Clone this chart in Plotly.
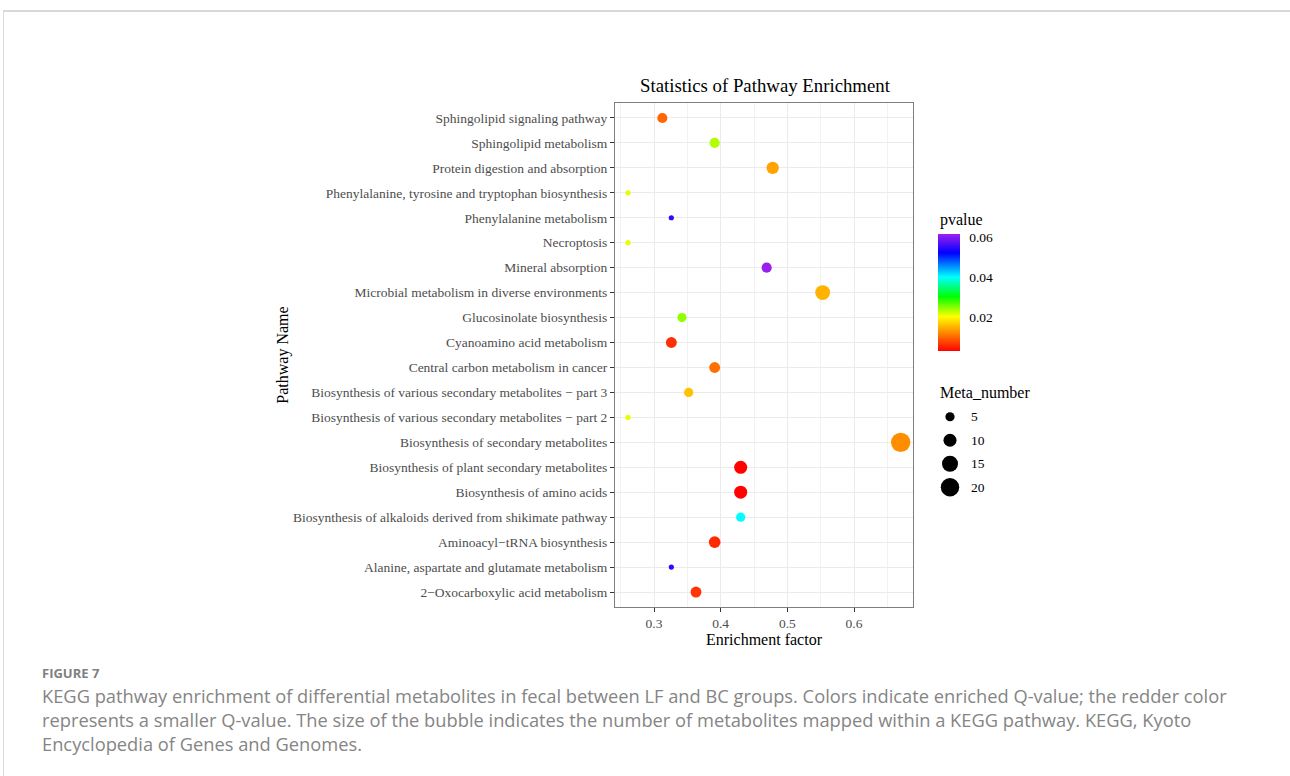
import plotly.graph_objects as go
import math

# ---- data (top-to-bottom display order) ----
pathways = [
    "Sphingolipid signaling pathway",
    "Sphingolipid metabolism",
    "Protein digestion and absorption",
    "Phenylalanine, tyrosine and tryptophan biosynthesis",
    "Phenylalanine metabolism",
    "Necroptosis",
    "Mineral absorption",
    "Microbial metabolism in diverse environments",
    "Glucosinolate biosynthesis",
    "Cyanoamino acid metabolism",
    "Central carbon metabolism in cancer",
    "Biosynthesis of various secondary metabolites \u2212 part 3",
    "Biosynthesis of various secondary metabolites \u2212 part 2",
    "Biosynthesis of secondary metabolites",
    "Biosynthesis of plant secondary metabolites",
    "Biosynthesis of amino acids",
    "Biosynthesis of alkaloids derived from shikimate pathway",
    "Aminoacyl\u2212tRNA biosynthesis",
    "Alanine, aspartate and glutamate metabolism",
    "2\u2212Oxocarboxylic acid metabolism",
]
enrichment = [0.3125, 0.391, 0.478, 0.261, 0.326, 0.261, 0.469, 0.553, 0.342, 0.326,
              0.391, 0.352, 0.261, 0.670, 0.430, 0.430, 0.430, 0.391, 0.326, 0.363]
pvalue = [0.0098, 0.0232, 0.0140, 0.0212, 0.0548, 0.0212, 0.0612, 0.0150, 0.0244, 0.0062,
          0.0105, 0.0160, 0.0212, 0.0125, 0.0031, 0.0032, 0.0400, 0.0058, 0.0548, 0.0066]
meta_number = [6, 6, 9, 1, 1, 1, 6, 13, 5, 7,
               7, 5, 1, 22, 10, 10, 5, 8, 1, 7]
size_breaks = [5, 10, 15, 20]
x_ticks = [0.3, 0.4, 0.5, 0.6]
p_ticks = [0.02, 0.04, 0.06]

W, H = 1290, 776
SERIF = "Liberation Serif, Times New Roman, serif"
K = 17.0  # px^2 of bubble area per unit of Meta_number

colorscale = [
    [0.0, "#FF0000"], [0.147, "#FF8000"], [0.294, "#FFFF00"], [0.462, "#00FF00"],
    [0.632, "#00FFFF"], [0.838, "#0000FF"], [1.0, "#A020F0"],
]
CMIN, CMAX = 0.003, 0.0615

fig = go.Figure()
fig.add_trace(go.Scatter(
    x=enrichment, y=pathways, mode="markers", showlegend=False,
    marker=dict(
        size=meta_number, sizemode="area", sizeref=2.0 / K, sizemin=2.6, opacity=1,
        color=pvalue, colorscale=colorscale, cmin=CMIN, cmax=CMAX,
        line=dict(width=0),
        colorbar=dict(
            x=938 / W, xanchor="left", y=1 - 292.5 / H, yanchor="middle",
            len=117, lenmode="pixels", thickness=22, xpad=0, ypad=0,
            outlinewidth=0, tickvals=p_ticks, ticktext=[f"{v:.2f}" for v in p_ticks],
            ticks="outside", ticklen=7, tickcolor="white",
            tickfont=dict(family=SERIF, size=13.5, color="black"),
        ),
    ),
))

# size legend drawn on its own small hidden axes (first break on top)
legend_pos = list(range(len(size_breaks)))
fig.add_trace(go.Scatter(
    x=[12] * len(size_breaks), y=legend_pos, xaxis="x2", yaxis="y2",
    mode="markers", showlegend=False, hoverinfo="skip",
    marker=dict(size=[math.sqrt(K * b) for b in size_breaks], color="black",
                opacity=1, line=dict(width=0)),
))
for i, b in enumerate(size_breaks):
    fig.add_annotation(text=str(b), xref="x2", yref="y2", x=31, y=i, xanchor="left",
                       yanchor="middle", showarrow=False,
                       font=dict(family=SERIF, size=13.5, color="black"))

fig.update_layout(
    width=W, height=H, margin=dict(l=0, r=0, t=0, b=0),
    paper_bgcolor="white", plot_bgcolor="white",
    font=dict(family=SERIF, color="black"),
    showlegend=False,
    title=dict(text="Statistics of Pathway Enrichment", x=765 / W, xanchor="center",
               y=1 - 85 / H, yanchor="middle", font=dict(family=SERIF, size=18.8, color="black")),
    xaxis=dict(
        domain=[615 / W, 913 / W], range=[0.2415, 0.6885],
        tickvals=x_ticks, ticktext=[str(v) for v in x_ticks],
        showgrid=True, gridcolor="#EBEBEB", gridwidth=1.2,
        minor=dict(dtick=0.05, tick0=0.25, showgrid=True, gridcolor="#F2F2F2", gridwidth=0.6),
        ticks="outside", ticklen=4, tickcolor="#333333", tickwidth=1,
        tickfont=dict(family=SERIF, size=13.5, color="#4D4D4D"),
        showline=True, linecolor="#7F7F7F", linewidth=1, mirror=True, zeroline=False,
        title=dict(text="Enrichment factor", font=dict(family=SERIF, size=16, color="black"), standoff=1),
    ),
    yaxis=dict(
        domain=[1 - 607 / H, 1 - 103 / H],
        type="category", categoryorder="array", categoryarray=pathways,
        range=[len(pathways) - 0.4, -0.6],
        showgrid=True, gridcolor="#EBEBEB", gridwidth=1.2,
        ticks="outside", ticklen=4, tickcolor="#333333", tickwidth=1,
        tickfont=dict(family=SERIF, size=13.5, color="#4D4D4D"),
        showline=True, linecolor="#7F7F7F", linewidth=1, mirror=True, zeroline=False,
        title=dict(text="Pathway Name", font=dict(family=SERIF, size=16, color="black"), standoff=0),
    ),
    xaxis2=dict(domain=[938 / W, 1038 / W], range=[0, 100], visible=False, fixedrange=True),
    yaxis2=dict(domain=[1 - 499 / H, 1 - 405 / H], range=[len(size_breaks) - 0.5, -0.5],
                visible=False, fixedrange=True),
)

# legend titles
fig.add_annotation(text="pvalue", xref="paper", yref="paper", x=938 / W, y=1 - 220 / H,
                   xanchor="left", yanchor="middle", showarrow=False,
                   font=dict(family=SERIF, size=16, color="black"))
fig.add_annotation(text="Meta_number", xref="paper", yref="paper", x=938 / W, y=1 - 392 / H,
                   xanchor="left", yanchor="middle", showarrow=False,
                   font=dict(family=SERIF, size=16, color="black"))

# page frame
fig.add_shape(type="line", xref="paper", yref="paper", x0=3 / W, x1=1, y0=1 - 11 / H, y1=1 - 11 / H,
              line=dict(color="#D9D9D9", width=2))
fig.add_shape(type="line", xref="paper", yref="paper", x0=3.5 / W, x1=3.5 / W, y0=0, y1=1 - 11 / H,
              line=dict(color="#D9D9D9", width=1))

# caption
CAP = "Open Sans, Noto Sans, sans-serif"
fig.add_annotation(text="<b>FIGURE 7</b>", xref="paper", yref="paper", x=40 / W, y=1 - 673 / H,
                   xanchor="left", yanchor="middle", showarrow=False,
                   font=dict(family=CAP, size=13, color="#808080"))
cap_lines = [
    "KEGG pathway enrichment of differential metabolites in fecal between LF and BC groups. Colors indicate enriched Q-value; the redder color",
    "represents a smaller Q-value. The size of the bubble indicates the number of metabolites mapped within a KEGG pathway. KEGG, Kyoto",
    "Encyclopedia of Genes and Genomes.",
]
for i, line in enumerate(cap_lines):
    fig.add_annotation(text=line, xref="paper", yref="paper", x=40 / W, y=1 - (695 + 24 * i) / H,
                       xanchor="left", yanchor="middle", showarrow=False,
                       font=dict(family=CAP, size=18.3, color="#858585"))

fig.write_html("out.html", config={"displayModeBar": False},
               post_script="document.body.style.margin='0';document.body.style.padding='0';document.body.style.overflow='hidden';")
